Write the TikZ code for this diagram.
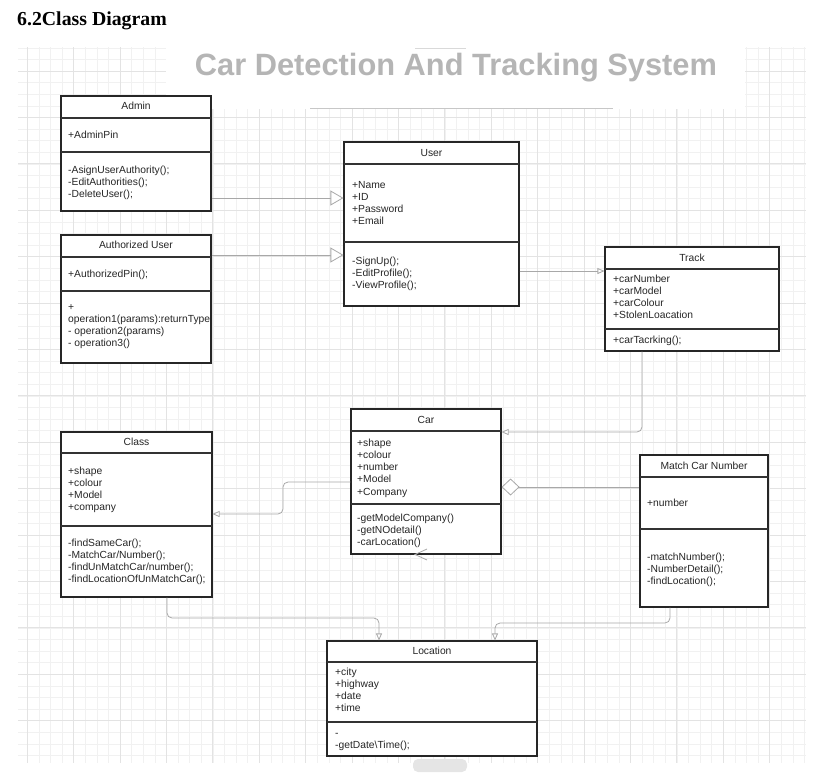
\documentclass[tikz,border=0pt]{standalone}
\usepackage{fontspec}
\setmainfont{Liberation Sans}
\newfontfamily\headfont{Liberation Serif}
\usetikzlibrary{arrows.meta}
\definecolor{gridminor}{HTML}{F1F1F1}
\definecolor{gridmajor}{HTML}{E3E3E3}
\definecolor{titlegray}{HTML}{B5B5B5}
\definecolor{linkgray}{HTML}{A8A8A8}
\definecolor{boxtext}{HTML}{262626}
\newcommand\classbox[5]{\node[umlbox, minimum width={#4-#2}, minimum height={#5-#3}] (#1) at ({(#2+#4)/2},{(#3+#5)/2}) {};}
\newcommand\sepat[3]{\draw[sepline] (#1,#3) -- (#2,#3);}
% \linesat{name}{x}{first baseline}{number of lines}{text}
\newcommand\linesat[5]{\node[txt] (#1) at (#2,{#3+(#4-1)*12.3}) {#5};}
\begin{document}
\begin{tikzpicture}[x=1pt,y=-1pt,
  umlbox/.style={draw=black!85, line width=1.1pt, inner sep=0pt, fill=white},
  sepline/.style={draw=black!80, line width=1.1pt},
  hdr/.style={font=\fontsize{10.3}{12.3}\selectfont, text=boxtext, inner sep=0pt, anchor=base},
  txt/.style={font=\fontsize{10.3}{12.3}\selectfont, text=boxtext, inner sep=0pt, anchor=base west, align=left},
  link/.style={draw=linkgray, line width=0.8pt, rounded corners=5pt},
  gen/.style={-{Triangle[open,length=13pt,width=15pt,fill=white]}},
  dep/.style={-{Triangle[open,length=7pt,width=6pt,fill=white]}},
  agg/.style={-{Diamond[open,length=18pt,width=17pt,fill=white]}},
]
\useasboundingbox (0,0) rectangle (825,777);
% grid
\foreach \i in {0,...,67}{\draw[gridminor,line width=0.8pt] ({27.3+11.6*\i},47) -- ({27.3+11.6*\i},763);}
\foreach \j in {-3,...,58}{\draw[gridminor,line width=0.8pt] (18,{720.7-11.6*\j}) -- (806,{720.7-11.6*\j});}
\foreach \i in {0,4,...,64}{\draw[gridmajor,line width=0.9pt] ({27.3+11.6*\i},47) -- ({27.3+11.6*\i},763);}
\foreach \j in {0,4,...,56}{\draw[gridmajor,line width=0.9pt] (18,{720.7-11.6*\j}) -- (806,{720.7-11.6*\j});}
\fill[white] (166,46) rectangle (745,109);
\draw[black!22, line width=1.3pt] (310,108.5) -- (613,108.5);
\draw[black!15, line width=1pt] (415,48) -- (466,48);
\fill[black!10, rounded corners=5pt] (413,759) rectangle (467,772);

% headings
\node[font=\headfont\bfseries\fontsize{19.8}{22}\selectfont, anchor=base west, inner sep=0pt] (heading) at (17,25) {6.2Class Diagram};
\node[font=\bfseries\fontsize{30.8}{34}\selectfont, text=titlegray, anchor=base, inner sep=0pt] (title) at (456,75) {Car Detection And Tracking System};

% boxes
\classbox{admin}{61}{96}{211}{211}
\sepat{61}{211}{118}\sepat{61}{211}{152}
\node[hdr] (adminT) at (136,109) {Admin};
\linesat{adminA}{68}{138}{1}{+AdminPin}
\linesat{adminO}{68}{173}{3}{-AsignUserAuthority();\\-EditAuthorities();\\-DeleteUser();}

\classbox{auth}{61}{235}{211}{363}
\sepat{61}{211}{257}\sepat{61}{211}{291}
\node[hdr] (authT) at (136,248) {Authorized User};
\linesat{authA}{68}{277}{1}{+AuthorizedPin();}
\linesat{authO}{68}{310}{4}{+\\operation1(params):returnType\\- operation2(params)\\- operation3()}

\classbox{user}{344}{142}{519}{306}
\sepat{344}{519}{164}\sepat{344}{519}{242}
\node[hdr] (userT) at (431.5,156) {User};
\linesat{userA}{352}{188}{4}{+Name\\+ID\\+Password\\+Email}
\linesat{userO}{352}{264}{3}{-SignUp();\\-EditProfile();\\-ViewProfile();}

\classbox{track}{605}{247}{779}{351}
\sepat{605}{779}{269}\sepat{605}{779}{329}
\node[hdr] (trackT) at (692,261) {Track};
\linesat{trackA}{613}{282}{4}{+carNumber\\+carModel\\+carColour\\+StolenLoacation}
\linesat{trackO}{613}{343}{1}{+carTacrking();}

\classbox{car}{351}{409}{501}{554}
\sepat{351}{501}{431}\sepat{351}{501}{504}
\node[hdr] (carT) at (426,423) {Car};
\linesat{carA}{357}{446}{5}{+shape\\+colour\\+number\\+Model\\+Company}
\linesat{carO}{357}{521}{3}{-getModelCompany()\\-getNOdetail()\\-carLocation()}

\classbox{cls}{61}{432}{212}{597}
\sepat{61}{212}{453}\sepat{61}{212}{526}
\node[hdr] (clsT) at (136.5,445) {Class};
\linesat{clsA}{68}{474}{4}{+shape\\+colour\\+Model\\+company}
\linesat{clsO}{68}{546}{4}{-findSameCar();\\-MatchCar/Number();\\-findUnMatchCar/number();\\-findLocationOfUnMatchCar();}

\classbox{match}{640}{455}{768}{607}
\sepat{640}{768}{477}\sepat{640}{768}{529}
\node[hdr] (matchT) at (704,469) {Match Car Number};
\linesat{matchA}{647}{506}{1}{+number}
\linesat{matchO}{647}{560}{3}{-matchNumber();\\-NumberDetail();\\-findLocation();}

\classbox{loc}{327}{641}{537}{756}
\sepat{327}{537}{662}\sepat{327}{537}{722}
\node[hdr] (locT) at (432,654) {Location};
\linesat{locA}{335}{675}{4}{+city\\+highway\\+date\\+time}
\linesat{locO}{335}{736}{2}{-\\-getDate\textbackslash Time();}

% helper coordinates
\coordinate (y198) at (0,198);
\coordinate (y255) at (0,255);
\coordinate (y271) at (0,271);
\coordinate (y487) at (0,487);
\coordinate (x642) at (642,0);
\coordinate (t1) at (642,432);
\coordinate (c1) at (283,482);
\coordinate (c2) at (283,514);
\coordinate (x167) at (167,0);
\coordinate (l1) at (167,618);
\coordinate (l2) at (379,618);
\coordinate (x670) at (670,0);
\coordinate (m1) at (670,623);
\coordinate (m2) at (495,623);

% connectors
\draw[link,gen] (admin.east |- y198) -- (user.west |- y198);
\draw[link,gen] (auth.east |- y255) -- (user.west |- y255);
\draw[link,dep] (user.east |- y271) -- (track.west |- y271);
\draw[link,dep] (track.south -| x642) -- (t1) -- (car.east |- t1);
\draw[link,dep] (car.west |- c1) -- (c1) -- (c2) -- (cls.east |- c2);
\draw[link,dep] (cls.south -| x167) -- (l1) -- (l2) -- (loc.north -| l2);
\draw[link,dep] (match.south -| x670) -- (m1) -- (m2) -- (loc.north -| m2);
\draw[link,agg] (match.west |- y487) -- (car.east |- y487);
\draw[linkgray, line width=0.8pt] (427,549) -- (415,554.5) -- (427,560);
\end{tikzpicture}
\end{document}
